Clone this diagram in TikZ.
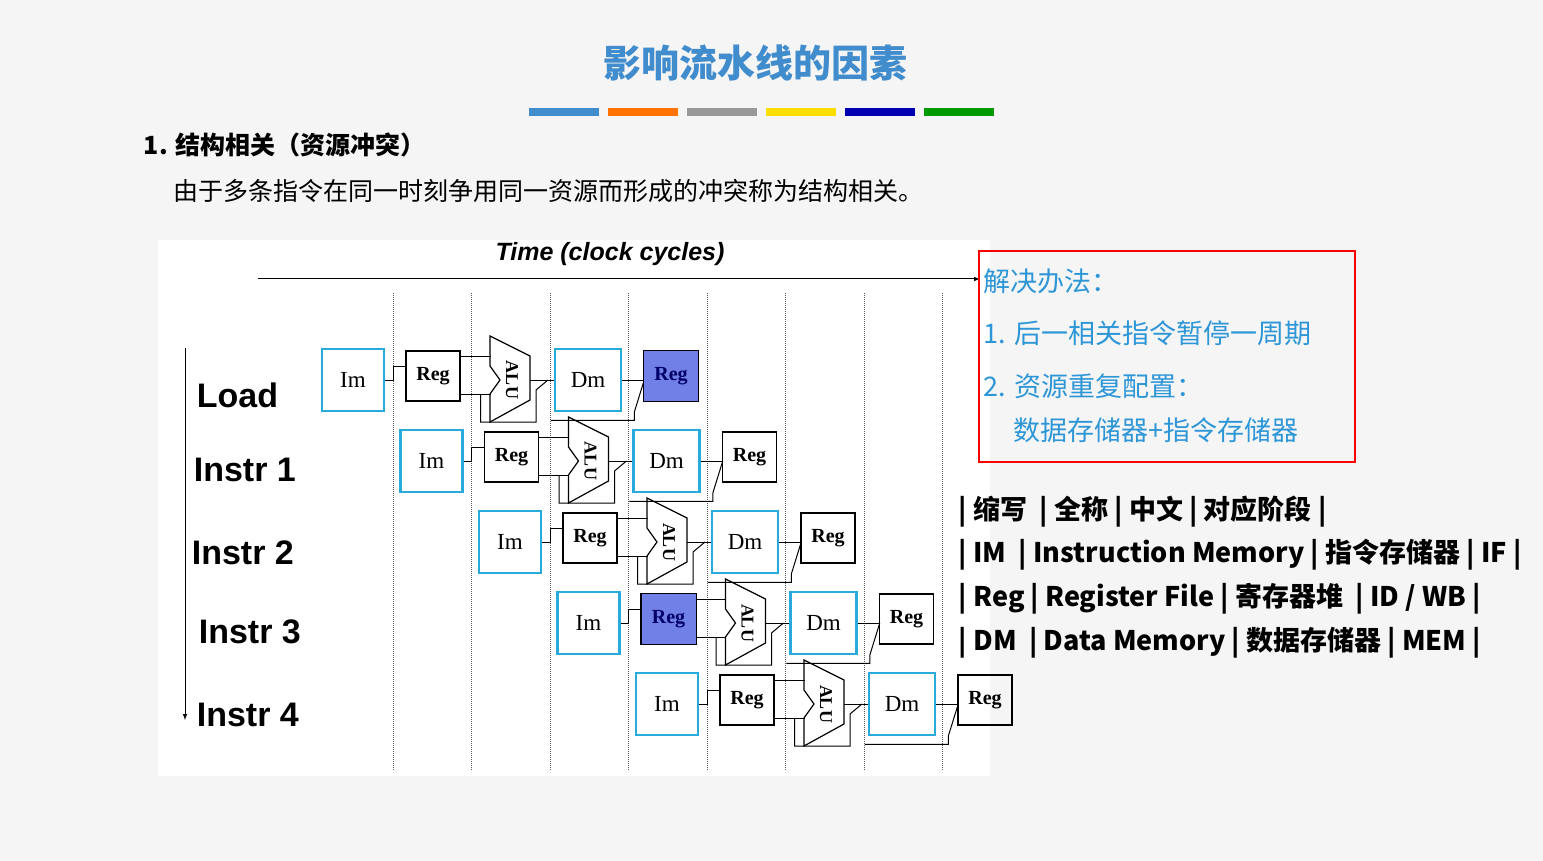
\documentclass[tikz,border=0pt]{standalone}
\usepackage{fontspec}
\setmainfont{Liberation Serif}
\setsansfont{Liberation Sans}
\newfontfamily\cjk{Noto Sans CJK SC}
\usetikzlibrary{positioning}
\definecolor{titleblue}{RGB}{64,140,205}
\definecolor{tipblue}{RGB}{45,150,215}
\definecolor{imblue}{RGB}{40,170,220}
\definecolor{hilite}{RGB}{112,128,230}
\tikzset{every picture/.style={line width=1pt}}
\tikzset{
  unit/.style={draw, line width=1.2pt, inner sep=0pt},
  imbox/.style={unit, draw=imblue, line width=2.5pt, minimum width=62pt, minimum height=62pt, font=\fontsize{23}{25}\selectfont},
  regbox/.style={unit, minimum width=54pt, minimum height=50pt, font=\fontsize{20}{22}\selectfont\bfseries},
  dmbox/.style={imbox, minimum width=66pt},
  rowlbl/.style={anchor=west, font=\sffamily\bfseries\fontsize{34}{36}\selectfont},
  tab/.style={anchor=west, font=\cjk\bfseries\fontsize{27}{30}\selectfont},
  tip/.style={anchor=west, text=tipblue, font=\cjk\fontsize{27}{30}\selectfont},
}
\begin{document}
\begin{tikzpicture}[x=1pt,y=-1pt]
\useasboundingbox (0,0) rectangle (1543,861);
\fill[gray!8] (0,0) rectangle (1543,861);
\fill[white] (158,240) rectangle (990,776);

% title and bars
\node (title) at (755,63) [text=titleblue, font=\cjk\bfseries\fontsize{38}{40}\selectfont] {影响流水线的因素};
\foreach \c [count=\k from 0] in {titleblue,orange!90!red,gray!80,yellow!80!orange,blue!70!black,green!60!black}
  \fill[\c] (529+79*\k,108) rectangle ++(70,8);
\node (head) at (140,145) [anchor=west, font=\cjk\bfseries\fontsize{25}{28}\selectfont] {1. 结构相关（资源冲突）};
\node (desc) at (170,191) [anchor=west, font=\cjk\fontsize{25}{28}\selectfont] {由于多条指令在同一时刻争用同一资源而形成的冲突称为结构相关。};

% time axis
\node (time) at (610,254) [font=\sffamily\bfseries\itshape\fontsize{25}{28}\selectfont] {Time (clock cycles)};
\coordinate (t0) at (258,279);
\coordinate (t1) at (980,279);
\draw[-latex] (t0) -- (t1);
\foreach \x in {393,471,550,628,707,785,864,942}
  \draw[densely dotted, gray!70!black] (\x,293) -- (\x,770);
\coordinate (v0) at (185,348);
\coordinate (v1) at (185,720);
\draw[-latex] (v0) -- (v1);

% row labels
\node (l0) at (193,395) [rowlbl] {Load};
\node (l1) at (190,470) [rowlbl] {Instr 1};
\node (l2) at (188,553) [rowlbl] {Instr 2};
\node (l3) at (195,632) [rowlbl] {Instr 3};
\node (l4) at (193,715) [rowlbl] {Instr 4};

% pipeline rows
\foreach \i in {0,...,4}{
  \pgfmathsetmacro{\xa}{353+78.5*\i}
  \pgfmathsetmacro{\ya}{380+81*\i}
  \node (im\i) at (\xa,\ya) [imbox] {Im};
  \node (rg\i) at (\xa+80,\ya-4) [regbox] {Reg};
  \node (dm\i) at (\xa+235,\ya) [dmbox] {Dm};
  \node (wb\i) at (\xa+318,\ya-4) [regbox] {Reg};
  \coordinate (alu\i) at (\xa+157,\ya);
  % ALU
  \draw[line width=1.2pt] ([shift={(-20,-44)}]alu\i) -- ([shift={(20,-24)}]alu\i) -- ([shift={(20,20)}]alu\i)
     -- ([shift={(-20,42)}]alu\i) -- ([shift={(-20,14)}]alu\i) -- ([shift={(-10,0)}]alu\i)
     -- ([shift={(-20,-14)}]alu\i) -- cycle;
  \node[rotate=-90, font=\fontsize{18}{20}\selectfont\bfseries] at ([shift={(2,0)}]alu\i) {ALU};
  % wires
  \draw (im\i.east) -- ++(8,0) |- ([shift={(0,-10)}]rg\i.west);
  \draw ([shift={(0,-20)}]rg\i.east) -- ++(30,0);
  \draw ([shift={(0,18)}]rg\i.east) -- ++(30,0);
  \draw ([shift={(0,18)}]rg\i.east) ++(20,0) -- ++(0,28) -- ([shift={(26,42)}]alu\i) -- ([shift={(26,10)}]alu\i) -- ([shift={(38,0)}]alu\i);
  \draw ([shift={(20,0)}]alu\i) -- (dm\i.west);
  \draw ([shift={(-3,8)}]dm\i.south west) -- ([shift={(12,8)}]dm\i.south east) -- ([shift={(12,0)}]dm\i.south east) -- ([shift={(22,0)}]dm\i.east);
  \draw (dm\i.east) -- (wb\i.west |- dm\i.east);
}
\fill[hilite] (wb0.south west) rectangle (wb0.north east);
\draw[line width=1.2pt] (wb0.south west) rectangle (wb0.north east);
\node at (wb0) [font=\fontsize{20}{22}\selectfont\bfseries, text=blue!40!black] {Reg};
\fill[hilite] (rg3.south west) rectangle (rg3.north east);
\draw[line width=1.2pt] (rg3.south west) rectangle (rg3.north east);
\node at (rg3) [font=\fontsize{20}{22}\selectfont\bfseries, text=blue!40!black] {Reg};

% solution box
\draw[red, line width=2.5pt] (979,251) rectangle (1355,462);
\node (s0) at (980,281) [tip] {解决办法：};
\node (s1) at (980,333) [tip] {1. 后一相关指令暂停一周期};
\node (s2) at (980,386) [tip] {2. 资源重复配置：};
\node (s3) at (1010,430) [tip] {数据存储器+指令存储器};

% table
\node (r0) at (955,512) [tab] {| 缩写 \ | 全称 | 中文 | 对应阶段 |};
\node (r1) at (955,555) [tab] {| IM \ | Instruction Memory | 指令存储器 | IF |};
\node (r2) at (955,599) [tab] {| Reg | Register File | 寄存器堆 \ | ID / WB |};
\node (r3) at (955,643) [tab] {| DM \ | Data Memory | 数据存储器 | MEM |};
\end{tikzpicture}
\end{document}
